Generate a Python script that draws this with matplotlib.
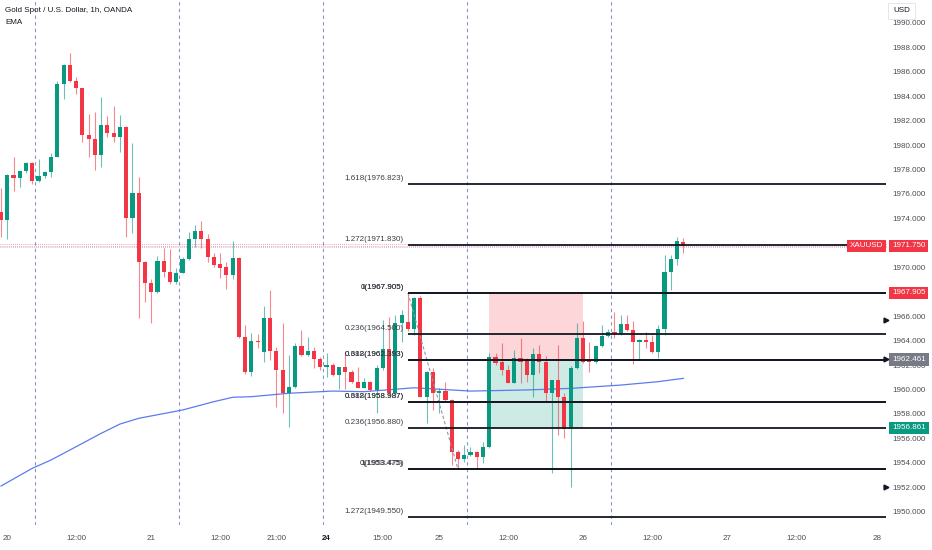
import matplotlib.pyplot as plt
import matplotlib.transforms as mtransforms
import numpy as np

plt.rcParams['font.family'] = ['Liberation Sans', 'DejaVu Sans']

# hourly candles, XAUUSD (OANDA)
opens = [1974.55, 1973.87, 1977.55, 1977.33, 1977.88, 1978.51, 1977.08, 1977.47, 1977.82, 1979.05,
         1985.00, 1986.55, 1985.27, 1984.69, 1980.82, 1980.52, 1979.16, 1981.64, 1980.96, 1980.62,
         1981.50, 1974.01, 1976.05, 1970.45, 1968.69, 1967.95, 1970.54, 1969.64, 1968.82, 1969.51,
         1970.68, 1972.29, 1972.99, 1972.31, 1970.86, 1970.26, 1969.99, 1969.37, 1970.73, 1964.32,
         1961.45, 1963.99, 1963.09, 1965.82, 1963.15, 1961.59, 1959.73, 1960.23, 1963.56, 1962.82,
         1963.17, 1962.49, 1961.86, 1962.00, 1961.18, 1961.81, 1961.45, 1960.64, 1960.14, 1960.64,
         1959.96, 1961.73, 1963.29, 1959.73, 1965.46, 1965.54, 1964.92, 1967.46, 1959.36, 1961.45,
         1959.69, 1959.87, 1959.14, 1954.91, 1954.31, 1954.64, 1954.91, 1954.45, 1955.27, 1962.68,
         1962.27, 1961.59, 1960.55, 1962.60, 1962.41, 1961.18, 1962.88, 1962.22, 1959.69, 1960.77,
         1959.41, 1956.76, 1961.78, 1964.24, 1962.41, 1962.22, 1963.56, 1964.40, 1964.68, 1964.54,
         1965.33, 1964.87, 1963.86, 1964.05, 1963.91, 1963.09, 1964.95, 1969.59, 1970.68, 1972.10]
closes = [1973.87, 1977.55, 1977.33, 1977.88, 1978.51, 1977.06, 1977.47, 1977.80, 1979.05, 1985.00,
          1986.55, 1985.27, 1984.69, 1980.82, 1980.52, 1979.16, 1981.64, 1980.96, 1980.62, 1981.50,
          1974.01, 1976.05, 1970.45, 1968.69, 1967.95, 1970.54, 1969.64, 1968.82, 1969.51, 1970.68,
          1972.29, 1972.99, 1972.31, 1970.86, 1970.18, 1969.91, 1969.37, 1970.73, 1964.32, 1961.45,
          1963.99, 1963.86, 1965.82, 1963.15, 1961.59, 1959.73, 1960.23, 1963.56, 1962.82, 1963.17,
          1962.49, 1961.86, 1962.00, 1961.18, 1961.81, 1961.45, 1960.64, 1960.14, 1960.64, 1959.96,
          1961.73, 1963.29, 1959.73, 1965.46, 1966.09, 1964.92, 1967.46, 1959.36, 1961.45, 1959.69,
          1959.87, 1959.14, 1954.91, 1954.28, 1954.64, 1954.91, 1954.45, 1955.27, 1962.68, 1962.14,
          1961.59, 1960.55, 1962.60, 1962.27, 1961.18, 1962.88, 1962.22, 1959.69, 1960.77, 1959.41,
          1956.76, 1961.78, 1964.24, 1962.27, 1962.22, 1963.56, 1964.40, 1964.68, 1964.54, 1965.33,
          1964.87, 1963.86, 1964.05, 1963.91, 1963.04, 1964.95, 1969.59, 1970.68, 1972.15, 1971.75]
highs = [1976.49, 1977.60, 1979.02, 1977.90, 1978.59, 1978.59, 1978.86, 1977.90, 1979.33, 1985.27,
         1986.60, 1987.51, 1985.55, 1984.70, 1982.54, 1982.71, 1983.91, 1982.38, 1983.20, 1982.46,
         1981.60, 1980.14, 1977.41, 1970.50, 1969.01, 1970.95, 1971.55, 1971.47, 1969.91, 1970.86,
         1972.91, 1973.46, 1973.81, 1972.72, 1971.14, 1971.19, 1970.45, 1972.17, 1970.80, 1965.27,
         1964.60, 1964.54, 1966.85, 1968.14, 1963.50, 1965.46, 1962.82, 1963.83, 1964.87, 1964.27,
         1963.50, 1962.63, 1962.96, 1962.14, 1961.86, 1963.09, 1961.59, 1961.86, 1960.90, 1960.70,
         1962.00, 1965.68, 1965.95, 1966.09, 1966.50, 1967.905, 1967.60, 1967.65, 1961.50, 1961.73,
         1960.09, 1960.64, 1959.20, 1955.05, 1955.45, 1955.27, 1954.95, 1955.73, 1962.96, 1962.96,
         1963.78, 1962.00, 1963.23, 1964.19, 1962.60, 1963.37, 1963.64, 1962.70, 1960.80, 1963.64,
         1959.70, 1961.95, 1965.41, 1965.63, 1963.91, 1963.60, 1965.27, 1964.95, 1966.31, 1966.09,
         1966.09, 1965.60, 1964.10, 1964.68, 1964.45, 1965.27, 1971.00, 1971.00, 1972.50, 1972.37]
lows = [1972.48, 1972.31, 1976.27, 1976.59, 1977.69, 1976.79, 1977.00, 1977.30, 1977.41, 1979.00,
        1983.74, 1985.20, 1984.18, 1980.27, 1979.05, 1977.96, 1978.23, 1980.68, 1980.27, 1979.46,
        1972.50, 1972.78, 1965.82, 1967.18, 1965.41, 1967.90, 1969.23, 1968.63, 1968.63, 1969.50,
        1970.60, 1971.68, 1971.55, 1970.45, 1970.05, 1969.10, 1968.20, 1969.04, 1964.19, 1961.27,
        1961.10, 1963.37, 1962.27, 1962.41, 1958.54, 1958.05, 1956.90, 1960.10, 1962.74, 1962.74,
        1961.73, 1961.59, 1961.04, 1961.10, 1960.01, 1960.04, 1960.50, 1960.09, 1960.09, 1959.90,
        1958.05, 1961.60, 1959.46, 1959.40, 1963.91, 1964.80, 1964.46, 1959.36, 1957.23, 1958.32,
        1958.05, 1959.00, 1953.82, 1953.475, 1954.09, 1954.58, 1953.50, 1953.96, 1955.20, 1962.00,
        1961.18, 1960.50, 1960.50, 1960.55, 1960.64, 1959.41, 1961.32, 1959.00, 1953.14, 1956.27,
        1956.00, 1952.04, 1961.70, 1962.20, 1961.40, 1962.20, 1963.50, 1964.32, 1964.19, 1964.46,
        1964.80, 1962.06, 1962.41, 1963.42, 1962.96, 1962.55, 1964.46, 1968.14, 1970.18, 1971.14]

# EMA read at a few bars
ema_bars = [0, 5, 8, 13, 16, 19, 22, 29, 34, 37, 40, 46, 53, 58, 66, 75, 84, 91, 99, 105, 109]
ema_vals = [1952.10, 1953.55, 1954.23, 1955.59, 1956.41, 1957.17, 1957.64, 1958.32, 1959.00, 1959.36,
            1959.41, 1959.69, 1959.87, 1959.82, 1960.14, 1959.87, 1959.96, 1960.09, 1960.36, 1960.64, 1960.91]

# time axis
tick_bars = [1, 12, 24, 35, 44, 52, 61, 70, 81, 93, 104, 116, 127, 140]
tick_labels = ['20', '12:00', '21', '12:00', '21:00', '24', '15:00', '25', '12:00', '26', '12:00', '27', '12:00', '28']
session_breaks = [5.5, 28.5, 51.5, 74.5, 97.5]

# two fib tools: high -> low and low -> high
fib_high = 1967.905
fib_low = 1953.475
fib_levels = [0, 0.236, 0.382, 0.618, 1, 1.272, 1.618]
fib_start_bar = 65
fib_low_bar = 73

# short position box
pos_start, pos_end = 78, 93
pos_stop = 1967.905
pos_entry = 1962.461
pos_target = 1956.861

last_price = 1971.750
marker_prices = [1965.7, 1962.461, 1952.0]

UP = '#089981'
DOWN = '#f23645'

fig = plt.figure(figsize=(9.32, 5.5), dpi=100)
ax = fig.add_axes([0, 25 / 550, 888 / 932, 525 / 550])
ax.set_xlim(-0.16, 141.7)
ax.set_ylim(1948.91, 1991.87)

for s in ax.spines.values():
    s.set_visible(False)

# session separators
for b in session_breaks:
    ax.axvline(b, color='#8a93cf', lw=0.8, ls=(0, (3, 3)), zorder=1)

# current price lines
ax.axhline(last_price + 0.13, color='#f23645', lw=0.6, ls=(0, (1, 1.5)), alpha=0.6, zorder=1)
ax.axhline(last_price, color='#f23645', lw=0.6, ls=(0, (1, 1.5)), alpha=0.6, zorder=1)
ax.axhline(last_price - 0.13, color='#6f7fe0', lw=0.6, ls=(0, (1, 1.5)), alpha=0.6, zorder=1)

# position box
ax.fill_between([pos_start, pos_end], pos_entry, pos_stop, color=DOWN, alpha=0.2, lw=0, zorder=1)
ax.fill_between([pos_start, pos_end], pos_target, pos_entry, color=UP, alpha=0.2, lw=0, zorder=1)

# EMA
ax.plot(ema_bars, ema_vals, color='#5b7cf0', lw=0.9, zorder=2)

# candles
o = np.array(opens)
c = np.array(closes)
h = np.array(highs)
l = np.array(lows)
x = np.arange(len(o))
up = c >= o
cols = np.where(up, UP, DOWN)
ax.vlines(x, l, h, colors=cols, lw=0.8, alpha=0.6, zorder=3)
ax.bar(x, np.maximum(np.abs(c - o), 0.07), bottom=np.minimum(o, c), width=0.66,
       color=cols, lw=0, zorder=4)

# fib tools
rng = fib_high - fib_low
x_end = ax.get_xlim()[1] - 0.3
ax.plot([fib_start_bar, fib_low_bar], [fib_high, fib_low], color='#9598a1', lw=0.8,
        ls=(0, (3, 2)), zorder=5)
for base, sign in [(fib_high, -1), (fib_low, 1)]:
    for lv in fib_levels:
        p = base + sign * lv * rng
        if p < ax.get_ylim()[0]:
            continue
        ax.plot([fib_start_bar, x_end], [p, p], color='#131722', lw=1.3, zorder=5,
                solid_capstyle='butt')
        ax.annotate(f"{lv:g}({p:.3f})", xy=(fib_start_bar, p), xytext=(-3, 1.5),
                    textcoords='offset points', ha='right', va='bottom',
                    fontsize=5.8, color='#3a3d45', zorder=6)

# axes ticks
ax.yaxis.tick_right()
yt = np.arange(1950, 1991, 2)
ax.set_yticks(yt)
ax.set_yticklabels([f"{v:.3f}" for v in yt])
ax.tick_params(axis='y', length=0, pad=3, labelsize=5.8, labelcolor='#4a4d55')
ax.set_xticks(tick_bars)
ax.set_xticklabels(tick_labels)
ax.tick_params(axis='x', length=0, pad=7, labelsize=5.8, labelcolor='#4a4d55')
for t in ax.get_xticklabels():
    if t.get_text() == '24':
        t.set_fontweight('bold')
        t.set_color('#131722')

# price scale labels
trans = mtransforms.blended_transform_factory(ax.transAxes, ax.transData)
for p, col in [(last_price, DOWN), (pos_stop, DOWN), (pos_entry, '#787b86'), (pos_target, UP)]:
    ax.text(1.0 + 4 / 888, p, f"{p:.3f}", transform=trans, ha='left', va='center',
            fontsize=5.8, color='white', clip_on=False, zorder=10,
            bbox=dict(boxstyle='square,pad=0.35', fc=col, ec='none'))
ax.text(1.0 - 5 / 888, last_price, 'XAUUSD', transform=trans, ha='right', va='center',
        fontsize=5.8, color='white', clip_on=False, zorder=10,
        bbox=dict(boxstyle='square,pad=0.35', fc=DOWN, ec='none'))
ax.plot([ax.get_xlim()[1] - 0.25] * len(marker_prices), marker_prices, marker='>', ls='none',
        color='#131722', ms=3.5, clip_on=False, zorder=11)

# header
fig.text(5 / 932, 1 - 11 / 550, 'Gold Spot / U.S. Dollar, 1h, OANDA', fontsize=5.8,
         color='#131722', va='center', ha='left')
fig.text(5 / 932, 1 - 23 / 550, 'EMA', fontsize=5.8, color='#131722', va='center', ha='left')
fig.text(893 / 932, 1 - 11 / 550, 'USD', fontsize=5.8, color='#131722', va='center', ha='left',
         zorder=12, bbox=dict(boxstyle='square,pad=0.6', fc='white', ec='#e0e3eb', lw=0.6))
fig.patches.append(plt.Rectangle((888 / 932, 1 - 20 / 550), 44 / 932, 20 / 550,
                                 transform=fig.transFigure, fc='white', ec='none', zorder=11))

fig.savefig('out.png', dpi=100, facecolor='white')
